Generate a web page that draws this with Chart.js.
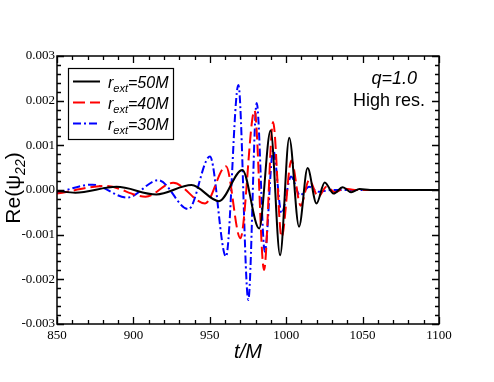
<!DOCTYPE html>
<html>
<head>
<meta charset="utf-8">
<script src="https://cdn.jsdelivr.net/npm/chart.js@4/dist/chart.umd.min.js"></script>
<style>
  html, body { margin: 0; padding: 0; background: #fff; }
  canvas { display: block; }
</style>
</head>
<body>
<canvas id="chart" width="494" height="382"></canvas>
<script>
// values (extrema of each waveform)
const tBlack = [850, 862, 889, 915, 938, 956, 971.3, 982.3, 989.8, 996, 1002, 1008.4, 1014, 1019.8, 1025.2, 1031, 1037, 1042.5, 1048, 1055, 1100];
const vBlack = [-0.00002, -0.00006, 0.00007, -0.0001, 0.00011, -0.00025, 0.00045, -0.00086, 0.00133, -0.00146, 0.00117, -0.00082, 0.00049, -0.0003, 0.00017, -0.00008, 0.00006, -0.00005, 0.00002, 0, 0];

const tRed = [850, 882, 908, 926, 946.9, 960.6, 970, 979.3, 985.5, 991.4, 997, 1003.4, 1009.5, 1015, 1021, 1026.5, 1032, 1038, 1045, 1100];
const vRed = [-0.00008, 0.00009, -0.00015, 0.00016, -0.0003, 0.00053, -0.00108, 0.00178, -0.00179, 0.00152, -0.00105, 0.00066, -0.00035, 0.00022, -0.00015, 0.00008, -0.00005, 0.00003, 0, 0];

const tBlue = [850, 873, 896, 916.3, 936, 950.1, 960.6, 968.7, 975.2, 980.7, 986, 991.5, 997, 1003.2, 1009, 1015, 1021, 1030, 1100];
const vBlue = [-0.00006, 0.00012, -0.00017, 0.00022, -0.00043, 0.00075, -0.00149, 0.00235, -0.00246, 0.00195, -0.00138, 0.0009, -0.00052, 0.0003, -0.00012, 0.00007, -0.00004, 0, 0];

const seriesNames = ['50M', '40M', '30M'];
const seriesColors = ['#000000', '#ff0000', '#0000ff'];
const seriesDash = [[], [12, 5], [8, 3, 2, 3]];

const xMin = 850, xMax = 1100, xStep = 50;
const yMin = -0.003, yMax = 0.003, yStep = 0.001;

function toPoints(ts, vs) {
    return ts.map((t, i) => ({ x: t, y: vs[i] }));
}

const allData = [toPoints(tBlack, vBlack), toPoints(tRed, vRed), toPoints(tBlue, vBlue)];

const sans = '"Liberation Sans", Arial, sans-serif';
const serif = '"Liberation Serif", "Times New Roman", serif';

// frame, inward ticks on all four sides, legend and annotations
const decorations = {
    id: 'decorations',
    afterDraw(chart) {
        const { ctx, chartArea: a, scales: { x, y } } = chart;
        ctx.save();
        ctx.strokeStyle = '#000';
        ctx.lineWidth = 1.5;
        ctx.strokeRect(a.left, a.top, a.right - a.left, a.bottom - a.top);

        ctx.lineWidth = 1.3;
        ctx.beginPath();
        for (let t = xMin; t <= xMax + 0.001; t += 10) {
            const px = Math.round(x.getPixelForValue(t)) + 0.5;
            const len = Math.abs((t - xMin) % xStep) < 0.01 ? 7 : 4;
            ctx.moveTo(px, a.bottom); ctx.lineTo(px, a.bottom - len);
            ctx.moveTo(px, a.top); ctx.lineTo(px, a.top + len);
        }
        for (let i = -15; i <= 15; i++) {
            const py = Math.round(y.getPixelForValue(i * 0.0002)) + 0.5;
            const len = i % 5 === 0 ? 7 : 4;
            ctx.moveTo(a.left, py); ctx.lineTo(a.left + len, py);
            ctx.moveTo(a.right, py); ctx.lineTo(a.right - len, py);
        }
        ctx.stroke();

        // legend box
        ctx.fillStyle = '#fff';
        ctx.fillRect(68.5, 68.5, 105, 71);
        ctx.lineWidth = 1.2;
        ctx.strokeStyle = '#000';
        ctx.strokeRect(68.5, 68.5, 105, 71);
        const rows = [81.5, 102.5, 123.5];
        rows.forEach((ry, i) => {
            ctx.beginPath();
            ctx.strokeStyle = seriesColors[i];
            ctx.lineWidth = 2;
            ctx.setLineDash(seriesDash[i]);
            ctx.moveTo(73, ry); ctx.lineTo(100, ry);
            ctx.stroke();
            ctx.setLineDash([]);
            ctx.fillStyle = '#000';
            ctx.textBaseline = 'alphabetic';
            ctx.textAlign = 'left';
            let tx = 108;
            ctx.font = 'italic 16px ' + sans;
            ctx.fillText('r', tx, ry + 6);
            tx += ctx.measureText('r').width;
            ctx.font = 'italic 11px ' + sans;
            ctx.fillText('ext', tx, ry + 10);
            tx += ctx.measureText('ext').width;
            ctx.font = 'italic 16px ' + sans;
            ctx.fillText('=' + seriesNames[i], tx, ry + 6);
        });

        // annotations
        ctx.fillStyle = '#000';
        ctx.textAlign = 'right';
        ctx.font = 'italic 18px ' + sans;
        ctx.fillText('q=1.0', 417, 84);
        ctx.font = '18px ' + sans;
        ctx.fillText('High res.', 425, 106);

        // x title
        ctx.textAlign = 'center';
        ctx.font = 'italic 20px ' + sans;
        ctx.fillText('t/M', (a.left + a.right) / 2, 358);

        // y title, rotated
        ctx.translate(20, 188);
        ctx.rotate(-Math.PI / 2);
        const big = '21px ' + sans, small = 'italic 14px ' + sans;
        ctx.font = big;
        const w1 = ctx.measureText('Re(\u03c8').width;
        const w3 = ctx.measureText(')').width;
        ctx.font = small;
        const w2 = ctx.measureText('22').width;
        let sx = -(w1 + w2 + w3) / 2;
        ctx.textAlign = 'left';
        ctx.font = big;
        ctx.fillText('Re(\u03c8', sx, 0);
        ctx.font = small;
        ctx.fillText('22', sx + w1, 5);
        ctx.font = big;
        ctx.fillText(')', sx + w1 + w2, 0);
        ctx.restore();
    }
};

new Chart(document.getElementById('chart'), {
    type: 'line',
    data: {
        datasets: allData.map((pts, i) => ({
            label: 'r_ext=' + seriesNames[i],
            data: pts,
            borderColor: seriesColors[i],
            borderDash: seriesDash[i],
            borderWidth: 2,
            pointRadius: 0,
            fill: false,
            cubicInterpolationMode: 'monotone'
        }))
    },
    options: {
        responsive: false,
        animation: false,
        layout: { padding: { top: 56, right: 55, left: 0, bottom: 0 } },
        plugins: { legend: { display: false }, tooltip: { enabled: false } },
        scales: {
            x: {
                type: 'linear',
                min: xMin,
                max: xMax,
                grid: { display: false, drawTicks: false },
                border: { display: false },
                ticks: {
                    stepSize: xStep,
                    padding: 4,
                    color: '#000',
                    font: { family: serif, size: 13 },
                    maxRotation: 0,
                    callback: v => String(Math.round(v))
                },
                afterFit: s => { s.height = 58; }
            },
            y: {
                min: yMin,
                max: yMax,
                grid: { display: false, drawTicks: false },
                border: { display: false },
                ticks: {
                    stepSize: yStep,
                    padding: 2,
                    color: '#000',
                    font: { family: serif, size: 13 },
                    callback: v => v.toFixed(3)
                },
                afterFit: s => { s.width = 57; }
            }
        }
    },
    plugins: [decorations]
});
</script>
</body>
</html>
